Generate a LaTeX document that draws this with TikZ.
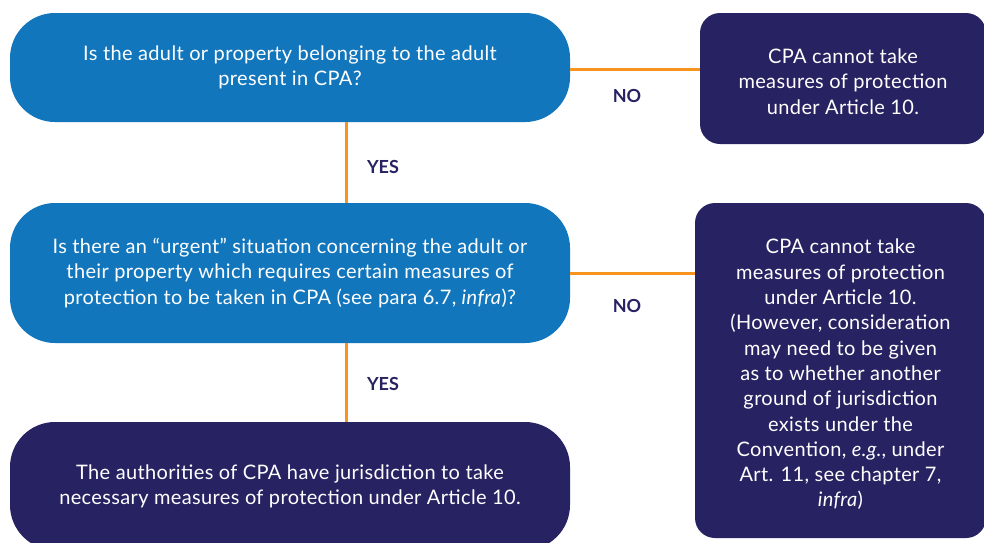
\documentclass[tikz,border=0pt]{standalone}
\usepackage{fontspec}
\setmainfont{Lato}
\newfontfamily\boxfont[LetterSpace=1.8]{Lato}
\definecolor{qblue}{HTML}{1276BD}
\definecolor{navy}{HTML}{272262}
\definecolor{orng}{HTML}{F7941D}
\tikzset{
  boxtext/.style={text=white, align=center, inner sep=0pt, font=\boxfont\fontsize{20}{25.3}\selectfont},
  qbox/.style={boxtext, fill=qblue, rounded corners=45pt},
  abox/.style={boxtext, fill=navy, rounded corners=45pt},
  rbox/.style={boxtext, fill=navy, rounded corners=20pt},
  conn/.style={draw=orng, line width=3pt},
  lbl/.style={text=navy, font=\fontsize{18}{20}\selectfont\bfseries, inner sep=0pt}
}
\begin{document}
\begin{tikzpicture}[x=1pt,y=-1pt]
\useasboundingbox (0,0) rectangle (984,542);
\clip (0,0) rectangle (984,542);
\fill[white] (0,0) rectangle (984,542);
\node[qbox, minimum width=560pt, minimum height=109pt] (q1) at (290,67.5)
  {Is the adult or property belonging to the adult\\present in CPA?};
\node[qbox, minimum width=560pt, minimum height=140pt] (q2) at (290,273)
  {Is there an “urgent” situation concerning the adult or\\their property which requires certain measures of\\protection to be taken in CPA (see para 6.7, \textit{infra})?};
\node[abox, minimum width=560pt, minimum height=128pt] (a1) at (290,486)
  {The authorities of CPA have jurisdiction to take\\necessary measures of protection under Article 10.};
\node[rbox, minimum width=286pt, minimum height=131pt,
  label={[boxtext, yshift=-3pt]center:{CPA cannot take\\measures of protection\\under Article 10.}}] (r1) at (843,78.5) {};
\node[rbox, minimum width=291pt, minimum height=335pt,
  label={[boxtext, yshift=-4pt]center:{CPA cannot take\\measures of protection\\under Article 10.\\(However, consideration\\may need to be given\\as to whether another\\ground of jurisdiction\\exists under the\\Convention, \textit{e.g.}, under\\Art. 11, see chapter 7,\\\textit{infra})}}] (r2) at (840.5,370.5) {};
\coordinate (vx) at (346,0);
\coordinate (h1) at (0,69);
\draw[conn] (q1.south -| vx) -- (q2.north -| vx);
\draw[conn] (q2.south -| vx) -- (a1.north -| vx);
\draw[conn] (q1.east |- h1) -- (r1.west |- h1);
\draw[conn] (q2.east) -- (q2.east -| r2.west);
\node[lbl] (y1) at (383,167) {YES};
\node[lbl] (y2) at (383,384) {YES};
\node[lbl] (n1) at (627,96) {NO};
\node[lbl] (n2) at (627,306) {NO};
\end{tikzpicture}
\end{document}
